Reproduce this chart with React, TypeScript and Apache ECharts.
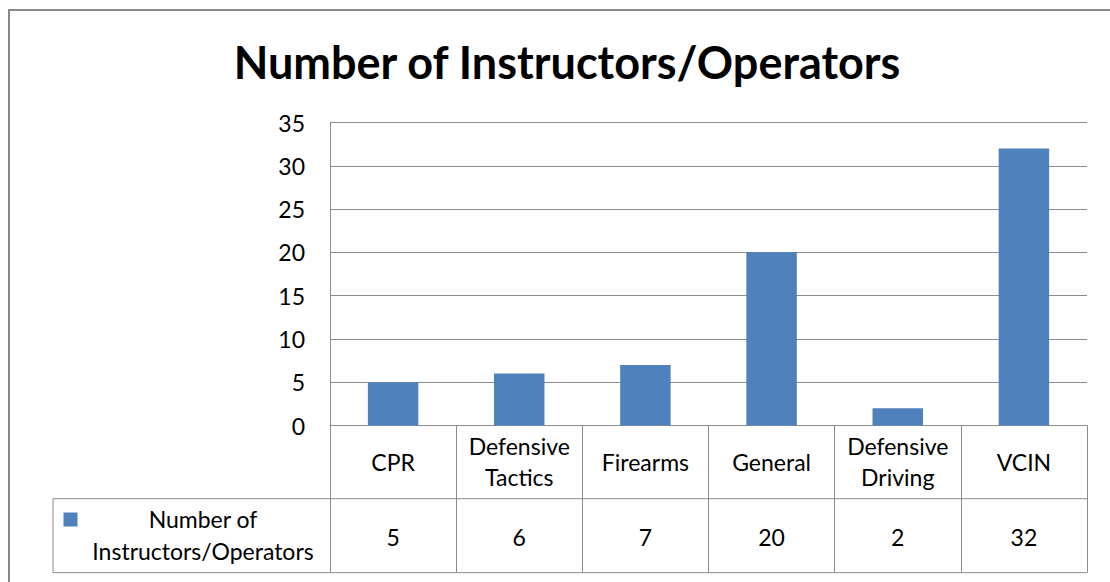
import React, { useEffect, useRef } from "react";
import * as echarts from "echarts";

const TITLE = "Number of Instructors/Operators";
const SERIES_NAME = "Number of Instructors/Operators";
const categories = ["CPR", "Defensive\nTactics", "Firearms", "General", "Defensive\nDriving", "VCIN"];
const values = [5, 6, 7, 20, 2, 32];
const yTicks = { min: 0, max: 35, interval: 5 };

const FONT = "Lato";
const FS = 23;
const GRID_LEFT = 330;
const GRID_RIGHT_X = 1087;
const GRID_TOP = 122.5;
const GRID_BOTTOM_Y = 425.5;
const ROW1_Y = 498.7;
const ROW2_Y = 572.7;
const LEG_X = 53;
const LINE = "#8c8c8c";

export default function App() {
  const ref = useRef<HTMLDivElement>(null);
  useEffect(() => {
    const chart = echarts.init(ref.current!, null, { renderer: "svg" });
    chart.setOption({
      animation: false,
      backgroundColor: "#fff",
      title: {
        text: TITLE,
        left: 562,
        top: 57,
        textAlign: "center",
        textVerticalAlign: "middle",
        textStyle: { fontFamily: FONT, fontWeight: "bold", fontSize: 45, color: "#000" },
      },
      grid: {
        left: GRID_LEFT,
        right: 1110 - GRID_RIGHT_X,
        top: GRID_TOP,
        bottom: 582 - GRID_BOTTOM_Y,
        containLabel: false,
      },
      xAxis: [
        {
          type: "category",
          data: categories,
          position: "bottom",
          axisLine: { show: true, lineStyle: { color: LINE, width: 1 } },
          axisTick: { show: true, length: ROW2_Y - GRID_BOTTOM_Y, interval: 0, lineStyle: { color: LINE, width: 1 } },
          axisLabel: {
            interval: 0,
            margin: 36,
            verticalAlign: "middle",
            lineHeight: 31,
            fontFamily: FONT,
            fontSize: FS,
            color: "#000",
          },
        },
        {
          type: "category",
          data: values.map(String),
          position: "bottom",
          axisLine: { show: false },
          axisTick: { show: false },
          axisLabel: {
            interval: 0,
            margin: 111,
            verticalAlign: "middle",
            fontFamily: FONT,
            fontSize: FS,
            color: "#000",
          },
        },
      ],
      yAxis: {
        type: "value",
        min: yTicks.min,
        max: yTicks.max,
        interval: yTicks.interval,
        axisLine: { show: true, lineStyle: { color: LINE, width: 1 } },
        axisTick: { show: false },
        splitLine: { show: true, lineStyle: { color: LINE, width: 1 } },
        axisLabel: { margin: 25, fontFamily: FONT, fontSize: FS, color: "#000" },
      },
      series: [
        {
          name: SERIES_NAME,
          type: "bar",
          xAxisIndex: 0,
          data: values,
          barWidth: "40%",
          itemStyle: { color: "#4F81BD" },
        },
      ],
      graphic: [
        {
          type: "rect",
          shape: { x: 9, y: 10, width: 1120, height: 600 },
          style: { fill: "none", stroke: "#888", lineWidth: 2 },
          silent: true,
        },
        { type: "line", shape: { x1: LEG_X, y1: ROW1_Y, x2: GRID_RIGHT_X, y2: ROW1_Y }, style: { stroke: LINE, lineWidth: 1 } },
        { type: "line", shape: { x1: LEG_X, y1: ROW2_Y, x2: GRID_RIGHT_X, y2: ROW2_Y }, style: { stroke: LINE, lineWidth: 1 } },
        { type: "line", shape: { x1: LEG_X, y1: ROW1_Y, x2: LEG_X, y2: ROW2_Y }, style: { stroke: LINE, lineWidth: 1 } },
        { type: "rect", shape: { x: 63.5, y: 512.5, width: 14, height: 14 }, style: { fill: "#4F81BD" } },
        {
          type: "text",
          x: 203,
          y: 534.5,
          style: {
            text: "Number of\nInstructors/Operators",
            fontFamily: FONT,
            fontSize: FS,
            lineHeight: 32,
            fill: "#000",
            align: "center",
            verticalAlign: "middle",
          },
        },
      ],
    });
    return () => chart.dispose();
  }, []);
  return <div ref={ref} style={{ position: "absolute", left: 0, top: 0, width: 1110, height: 582 }} />;
}
